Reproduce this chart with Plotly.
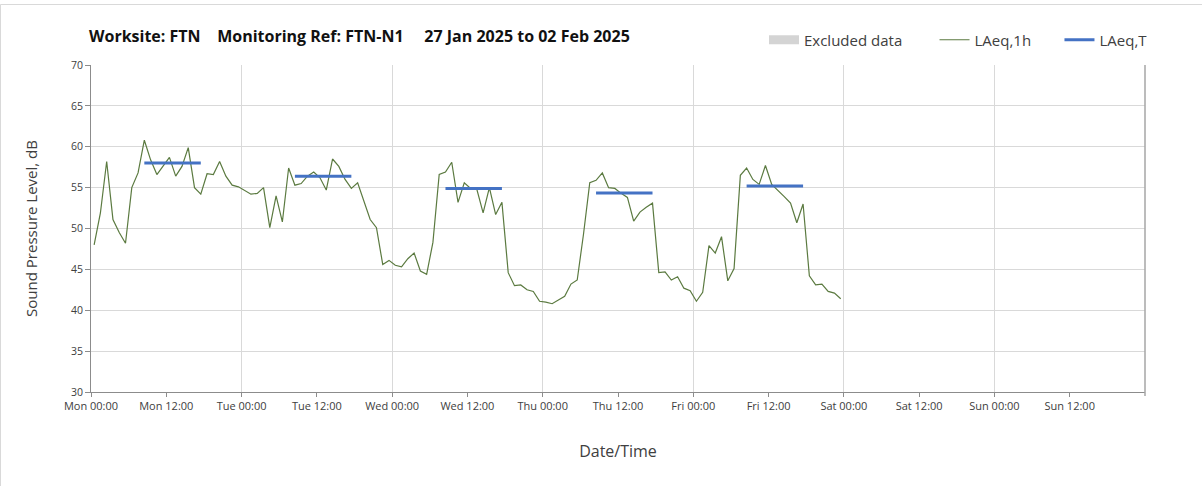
import pandas as pd
import plotly.graph_objects as go

# ---------------- data ----------------
start_hour = "2025-01-27 00:30"   # first hourly value (plotted at mid-hour)
laeq_1h = [
    48.0, 51.9, 58.2, 51.1, 49.5, 48.2, 55.0, 56.8, 60.8, 58.4, 56.6, 57.6,
    58.7, 56.4, 57.6, 59.9, 55.0, 54.2, 56.7, 56.6, 58.2, 56.4, 55.3, 55.1,
    54.6, 54.2, 54.3, 55.0, 50.1, 54.0, 50.8, 57.4, 55.3, 55.5, 56.4, 56.9,
    56.2, 54.7, 58.5, 57.6, 56.0, 54.9, 55.6, 53.3, 51.1, 50.1, 45.6, 46.1,
    45.5, 45.3, 46.3, 47.0, 44.8, 44.4, 48.3, 56.6, 56.9, 58.1, 53.2, 55.6,
    54.9, 54.8, 51.9, 55.0, 51.7, 53.2, 44.6, 43.0, 43.1, 42.5, 42.3, 41.1,
    41.0, 40.8, 41.3, 41.7, 43.2, 43.7, 49.3, 55.6, 55.9, 56.8, 55.0, 54.9,
    54.3, 53.8, 50.9, 52.0, 52.6, 53.1, 44.6, 44.7, 43.7, 44.1, 42.7, 42.4,
    41.1, 42.2, 47.9, 47.0, 49.0, 43.6, 45.1, 56.5, 57.4, 56.0, 55.4, 57.7,
    55.4, 54.7, 53.9, 53.1, 50.7, 53.0, 44.2, 43.1, 43.2, 42.3, 42.1, 41.4,
]

period_start = ["2025-01-27 08:30", "2025-01-28 08:30", "2025-01-29 08:30",
                "2025-01-30 08:30", "2025-01-31 08:30"]
period_end = ["2025-01-27 17:30", "2025-01-28 17:30", "2025-01-29 17:30",
              "2025-01-30 17:30", "2025-01-31 17:30"]
laeq_t = [58.0, 56.4, 54.9, 54.35, 55.2]

excluded_x = [None]
excluded_y = [None]

tick_vals = ["2025-01-27 00:00", "2025-01-27 12:00", "2025-01-28 00:00", "2025-01-28 12:00",
             "2025-01-29 00:00", "2025-01-29 12:00", "2025-01-30 00:00", "2025-01-30 12:00",
             "2025-01-31 00:00", "2025-01-31 12:00", "2025-02-01 00:00", "2025-02-01 12:00",
             "2025-02-02 00:00", "2025-02-02 12:00"]
tick_text = ["Mon 00:00", "Mon 12:00", "Tue 00:00", "Tue 12:00", "Wed 00:00", "Wed 12:00",
             "Thu 00:00", "Thu 12:00", "Fri 00:00", "Fri 12:00", "Sat 00:00", "Sat 12:00",
             "Sun 00:00", "Sun 12:00"]
x_range = ["2025-01-27 00:00", "2025-02-03 00:00"]
y_range = [30, 70]

# ---------------- figure ----------------
hours = pd.date_range(start_hour, periods=len(laeq_1h), freq="h")

tx, ty = [], []
for s, e, v in zip(period_start, period_end, laeq_t):
    tx += [s, e, None]
    ty += [v, v, None]

FONT = "'Open Sans', sans-serif"
TXT = "#404040"
W, H = 1202, 486
L, R, T, B = 91, 57, 65, 94
pw, ph = W - L - R, H - T - B
NB = "\u00a0"

fig = go.Figure()
fig.add_trace(go.Scatter(x=excluded_x, y=excluded_y, mode="lines", name="Excluded data" + NB * 7,
                         line=dict(color="#d4d4d4", width=9)))
fig.add_trace(go.Scatter(x=hours, y=laeq_1h, mode="lines", name="LAeq,1h" + NB * 6,
                         line=dict(color="#5b7a40", width=1.2)))
fig.add_trace(go.Scatter(x=tx, y=ty, mode="lines", name="LAeq,T",
                         line=dict(color="#4472c4", width=3)))

fig.update_layout(
    width=W, height=H,
    margin=dict(l=L, r=R, t=T, b=B, autoexpand=False),
    paper_bgcolor="white", plot_bgcolor="white",
    font=dict(family=FONT, color=TXT),
    title=dict(
        text="<b>Worksite: FTN" + NB * 4 + "Monitoring Ref: FTN-N1" + NB * 5
             + "27 Jan 2025 to 02 Feb 2025</b>",
        x=89 / W, xanchor="left", xref="container",
        y=1 - 36 / H, yanchor="middle", yref="container",
        font=dict(family=FONT, size=16, color="#111111"),
    ),
    legend=dict(orientation="h", x=764 / W, xanchor="left", xref="container",
                y=1 - 40 / H, yanchor="middle", yref="container",
                font=dict(family=FONT, size=15, color=TXT), bgcolor="rgba(0,0,0,0)",
                itemwidth=30, tracegroupgap=0),
    showlegend=True,
    xaxis=dict(
        type="date", range=x_range, automargin=False,
        tickvals=tick_vals, ticktext=tick_text,
        ticks="outside", ticklen=4, tickcolor="#8c8c8c",
        showgrid=False,
        minor=dict(dtick=86400000, tick0="2025-01-27", showgrid=True, gridcolor="#d9d9d9",
                   gridwidth=1, ticks=""),
        showline=True, linecolor="#8c8c8c", linewidth=1,
        tickfont=dict(family=FONT, size=11, color=TXT),
        title=dict(text="Date/Time", font=dict(family=FONT, size=16, color=TXT), standoff=33),
        zeroline=False,
    ),
    yaxis=dict(
        range=y_range, dtick=5, tick0=30, automargin=False,
        ticks="outside", ticklen=5, tickcolor="#8c8c8c",
        showgrid=True, gridcolor="#d9d9d9", gridwidth=1,
        showline=True, linecolor="#8c8c8c", linewidth=1,
        tickfont=dict(family=FONT, size=10.5, color=TXT),
        title=dict(text="Sound Pressure Level, dB", font=dict(family=FONT, size=15, color=TXT),
                   standoff=29),
        zeroline=False,
    ),
    shapes=[
        # right edge line of plot area
        dict(type="line", xref="paper", yref="paper", x0=1, x1=1, y0=-4 / ph, y1=1,
             line=dict(color="#a6a6a6", width=1.5)),
        # chart outer border
        dict(type="rect", xref="paper", yref="paper",
             x0=-(L - 0.5) / pw, x1=(W - L + 5) / pw,
             y0=-(B + 5) / ph, y1=1 + (T - 4.5) / ph,
             line=dict(color="#d9d9d9", width=1), fillcolor="rgba(0,0,0,0)", layer="below"),
    ],
)

fig.write_html("out.html", config={"displayModeBar": False},
               post_script="document.body.style.margin='0px';")
